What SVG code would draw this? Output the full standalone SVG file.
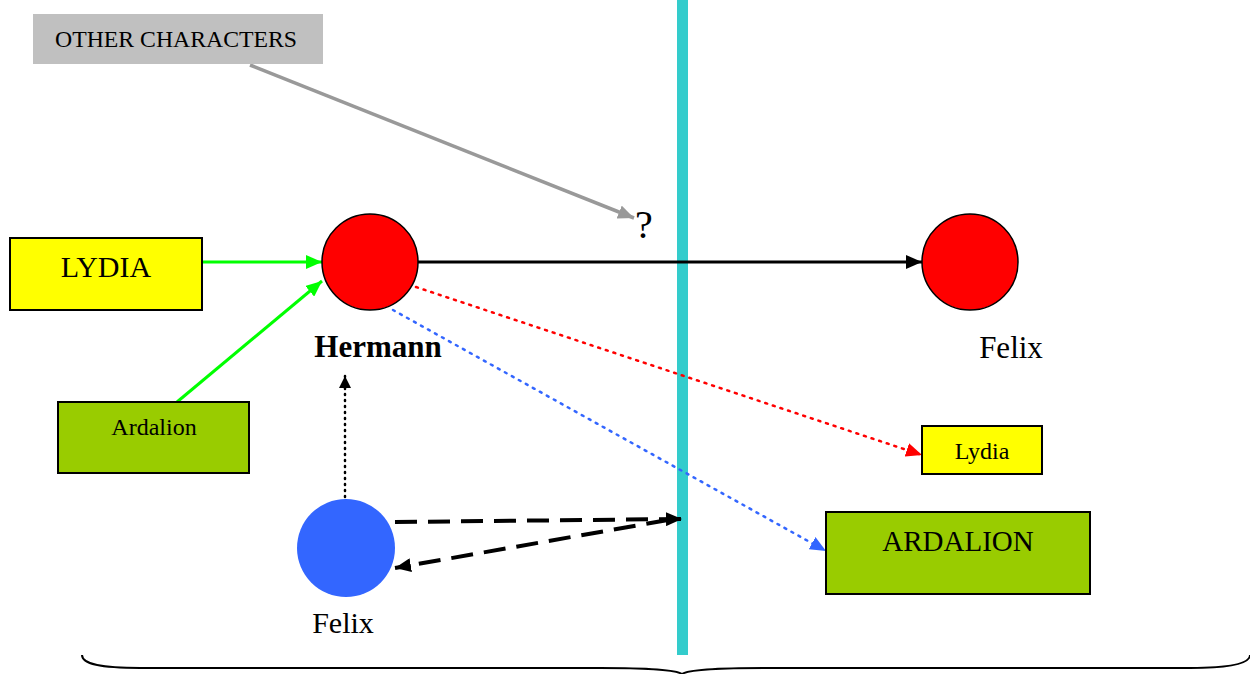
<svg xmlns="http://www.w3.org/2000/svg" width="1250" height="674" viewBox="0 0 1250 674">
  <style>
    text { font-family: "Liberation Serif", "Times New Roman", serif; fill: #000; text-anchor: middle; }
    .box { stroke: #000; stroke-width: 2; }
    .yellow { fill: #ffff00; }
    .olive { fill: #99cc00; }
    .red { fill: #ff0000; stroke: #000; stroke-width: 1.5; }
    .conn { fill: none; }
  </style>
  <defs>
    <marker id="ahGray" markerWidth="16" markerHeight="14" refX="16" refY="7" orient="auto" markerUnits="userSpaceOnUse">
      <path d="M0,0 L16,7 L0,14 z" fill="#999999"/>
    </marker>
    <marker id="ahGreen" markerWidth="16" markerHeight="14" refX="16" refY="7" orient="auto" markerUnits="userSpaceOnUse">
      <path d="M0,0 L16,7 L0,14 z" fill="#00ff00"/>
    </marker>
    <marker id="ahBlack" markerWidth="16" markerHeight="14" refX="16" refY="7" orient="auto" markerUnits="userSpaceOnUse">
      <path d="M0,0 L16,7 L0,14 z" fill="#000"/>
    </marker>
    <marker id="ahRed" markerWidth="16" markerHeight="14" refX="16" refY="7" orient="auto" markerUnits="userSpaceOnUse">
      <path d="M0,0 L16,7 L0,14 z" fill="#ff0000"/>
    </marker>
    <marker id="ahBlue" markerWidth="16" markerHeight="14" refX="16" refY="7" orient="auto" markerUnits="userSpaceOnUse">
      <path d="M0,0 L16,7 L0,14 z" fill="#3366ff"/>
    </marker>
    <marker id="ahSmall" markerWidth="12" markerHeight="12" refX="12" refY="6" orient="auto" markerUnits="userSpaceOnUse">
      <path d="M0,0 L12,6 L0,12 z" fill="#000"/>
    </marker>
  </defs>

  <rect width="1250" height="674" fill="#ffffff"/>

  <!-- dividing bar -->
  <rect id="divider" x="677" y="0" width="11" height="655" fill="#33cccc"/>

  <!-- bottom brace -->
  <path id="brace" d="M82,655 C82,664 100,668 140,668 L600,668 C650,668 676,670 682,674 C688,670 714,668 764,668 L1190,668 C1230,668 1250,664 1250,655" fill="none" stroke="#000" stroke-width="2"/>

  <g id="connectors" class="conn">
    <line x1="250" y1="65" x2="634" y2="218" stroke="#999999" stroke-width="3.5" marker-end="url(#ahGray)"/>
    <line x1="202" y1="262" x2="322" y2="262" stroke="#00ff00" stroke-width="3" marker-end="url(#ahGreen)"/>
    <line x1="177" y1="402" x2="322" y2="281" stroke="#00ff00" stroke-width="3" marker-end="url(#ahGreen)"/>
    <line x1="418" y1="262" x2="922" y2="262" stroke="#000" stroke-width="3" marker-end="url(#ahBlack)"/>
    <line x1="416" y1="287" x2="922" y2="455" stroke="#ff0000" stroke-width="2.5" stroke-dasharray="2 6" stroke-linecap="round" marker-end="url(#ahRed)"/>
    <line x1="393" y1="310" x2="826" y2="551" stroke="#3366ff" stroke-width="2.5" stroke-dasharray="2 6" stroke-linecap="round" marker-end="url(#ahBlue)"/>
    <line x1="345" y1="497" x2="345" y2="376" stroke="#000" stroke-width="2.5" stroke-dasharray="1 5" stroke-linecap="round" marker-end="url(#ahSmall)"/>
    <line x1="395" y1="522" x2="682" y2="519" stroke="#000" stroke-width="4" stroke-dasharray="22 11" marker-end="url(#ahBlack)"/>
    <line x1="668" y1="520" x2="395" y2="568" stroke="#000" stroke-width="4" stroke-dasharray="22 11" marker-end="url(#ahBlack)"/>
  </g>

  <g id="other-characters">
    <rect x="33" y="14" width="290" height="50" fill="#c0c0c0"/>
    <text x="176" y="47" font-size="23" textLength="242" lengthAdjust="spacingAndGlyphs">OTHER CHARACTERS</text>
  </g>

  <g id="question">
    <text x="644" y="238" font-size="40">?</text>
  </g>

  <g id="lydia-left">
    <rect class="box yellow" x="10" y="238" width="192" height="72"/>
    <text x="106" y="277" font-size="30">LYDIA</text>
  </g>

  <g id="ardalion-left">
    <rect class="box olive" x="58" y="402" width="191" height="71"/>
    <text x="154" y="435" font-size="24">Ardalion</text>
  </g>

  <g id="hermann">
    <circle class="red" cx="370" cy="262" r="48"/>
    <text x="378" y="357" font-size="31" font-weight="bold">Hermann</text>
  </g>

  <g id="felix-right">
    <circle class="red" cx="970" cy="262" r="48"/>
    <text x="1011" y="358" font-size="31">Felix</text>
  </g>

  <g id="lydia-right">
    <rect class="box yellow" x="922" y="426" width="120" height="48"/>
    <text x="982" y="459" font-size="24">Lydia</text>
  </g>

  <g id="ardalion-right">
    <rect class="box olive" x="826" y="512" width="264" height="82"/>
    <text x="958" y="551" font-size="29">ARDALION</text>
  </g>

  <g id="felix-left">
    <circle cx="346" cy="548" r="49" fill="#3366ff"/>
    <text x="343" y="633" font-size="30">Felix</text>
  </g>
</svg>
